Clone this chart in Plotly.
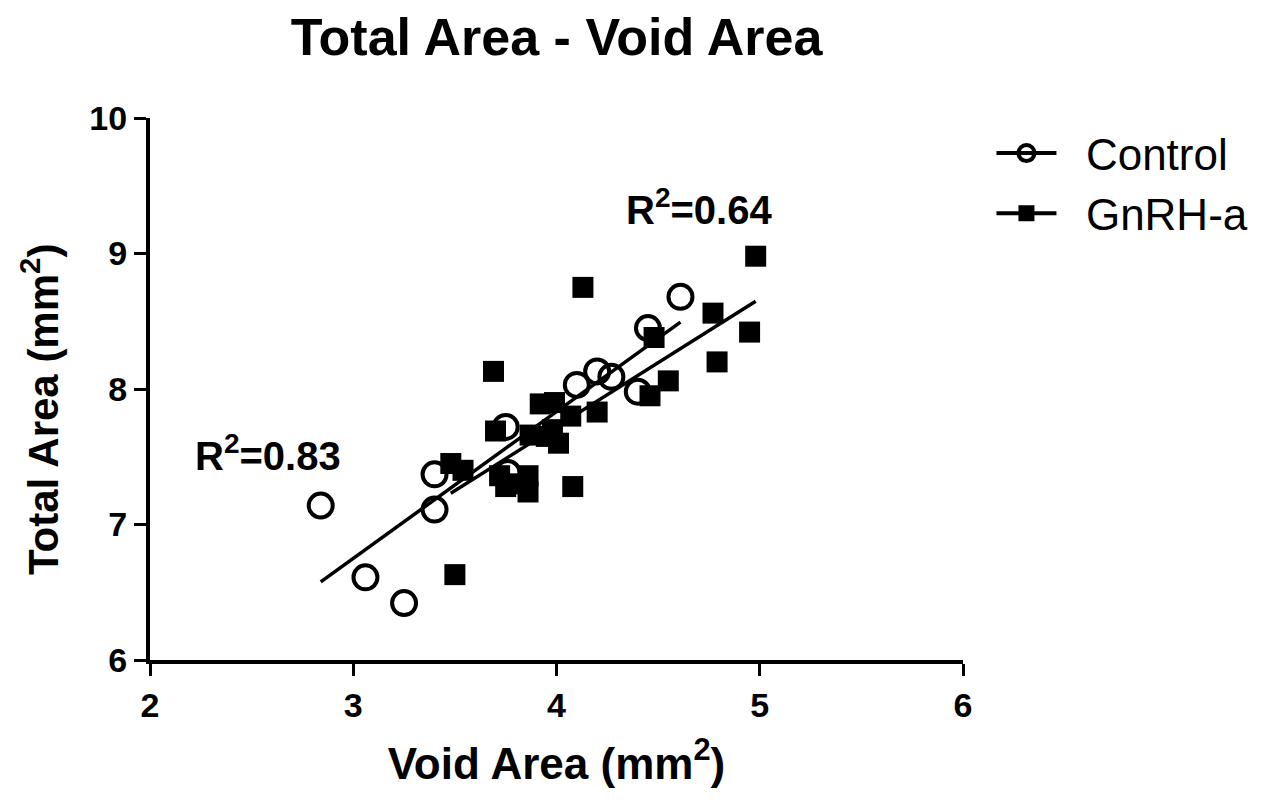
import numpy as np
import plotly.graph_objects as go

# ---- data ----
control_x = [2.84, 3.06, 3.25, 3.40, 3.40, 3.75, 3.76, 4.10, 4.20, 4.27, 4.40, 4.45, 4.61]
control_y = [7.14, 6.61, 6.42, 7.11, 7.37, 7.72, 7.38, 8.03, 8.13, 8.09, 7.98, 8.45, 8.68]

gnrh_x = [4.98, 4.13, 3.69, 4.77, 4.95, 4.79, 4.55, 4.48, 4.46, 4.20, 4.07, 3.99, 3.92,
          3.98, 4.01, 3.87, 3.70, 3.72, 3.75, 3.86, 3.86, 4.08, 3.48, 3.54, 3.50, 3.95, 3.80]
gnrh_y = [8.98, 8.75, 8.13, 8.56, 8.42, 8.20, 8.06, 8.38, 7.95, 7.83, 7.80, 7.90, 7.89,
          7.70, 7.60, 7.66, 7.69, 7.36, 7.28, 7.36, 7.24, 7.28, 7.45, 7.40, 6.63, 7.65, 7.30]

r2_labels = ["R<sup>2</sup>=0.83", "R<sup>2</sup>=0.64"]
r2_pos_x = [2.58, 4.70]
r2_pos_y = [7.53, 9.34]

x_ticks = [2, 3, 4, 5, 6]
y_ticks = [6, 7, 8, 9, 10]

FONT = "Liberation Sans, Arial, sans-serif"

# page body adds an 8px offset; compensate in margins
OFF = 8
W, H = 1269, 806


def fit_line(xs, ys):
    xs = np.asarray(xs)
    ys = np.asarray(ys)
    m, b = np.polyfit(xs, ys, 1)
    lx = np.array([xs.min(), xs.max()])
    return lx, m * lx + b


fig = go.Figure()

# fitted lines
for xs, ys in [(control_x, control_y), (gnrh_x, gnrh_y)]:
    lx, ly = fit_line(xs, ys)
    fig.add_trace(go.Scatter(x=lx, y=ly, mode="lines",
                             line=dict(color="black", width=3.5),
                             showlegend=False, hoverinfo="skip"))

# data points
fig.add_trace(go.Scatter(x=gnrh_x, y=gnrh_y, mode="markers", name="GnRH-a",
                         marker=dict(symbol="square", size=21, color="black"),
                         showlegend=False))
fig.add_trace(go.Scatter(x=control_x, y=control_y, mode="markers", name="Control",
                         marker=dict(symbol="circle-open", size=24, color="black",
                                     line=dict(width=4, color="black")),
                         showlegend=False))

# legend entries (line + symbol)
fig.add_trace(go.Scatter(x=[None], y=[None], mode="lines+markers",
                         name="\u00a0\u00a0Control",
                         line=dict(color="black", width=4),
                         marker=dict(symbol="circle-open", size=24, color="black",
                                     line=dict(width=4, color="black"))))
fig.add_trace(go.Scatter(x=[None], y=[None], mode="lines+markers",
                         name="\u00a0\u00a0GnRH-a",
                         line=dict(color="black", width=4),
                         marker=dict(symbol="square", size=22, color="black")))

for t, ax, ay in zip(r2_labels, r2_pos_x, r2_pos_y):
    fig.add_annotation(x=ax, y=ay, text=t, showarrow=False,
                       font=dict(family=FONT, size=40, color="black", weight="bold"))

left, top, pw, ph = 150 - OFF, 118 - OFF, 813, 542

# y-axis title as a rotated annotation (sits slightly below the axis centre)
fig.add_annotation(text="<b>Total Area (mm<sup>2</sup>)</b>", textangle=-90,
                   xref="paper", yref="paper", x=-(150 - 40) / pw, y=(660 - 410) / ph,
                   xanchor="center", yanchor="middle", showarrow=False,
                   font=dict(family=FONT, size=42, color="black"))

axis_common = dict(showline=True, linecolor="black", linewidth=4,
                   ticks="outside", ticklen=12, tickwidth=3, tickcolor="black",
                   showgrid=False, zeroline=False, automargin=False,
                   tickfont=dict(family=FONT, size=34, color="black", weight="bold"),
                   mirror=False)

fig.update_layout(
    width=W, height=H,
    paper_bgcolor="white", plot_bgcolor="white",
    margin=dict(l=left, r=W - left - pw, t=top, b=H - top - ph),
    title=dict(text="<b>Total Area - Void Area</b>", x=0.5, xref="paper",
               y=1 - (37 - OFF) / H, yref="container", yanchor="middle",
               font=dict(family=FONT, size=52, color="black")),
    xaxis=dict(range=[2, 6], tickvals=x_ticks,
               title=dict(text="<b>Void Area (mm<sup>2</sup>)</b>", standoff=26,
                          font=dict(family=FONT, size=44, color="black")),
               **axis_common),
    yaxis=dict(range=[6, 10], tickvals=y_ticks, **axis_common),
    legend=dict(x=1.035, y=1.0, xanchor="left", yanchor="top",
                font=dict(family=FONT, size=44, color="black"),
                bgcolor="rgba(0,0,0,0)", itemsizing="trace", itemwidth=60,
                tracegroupgap=4),
    showlegend=True,
)

fig.write_html("out.html")
